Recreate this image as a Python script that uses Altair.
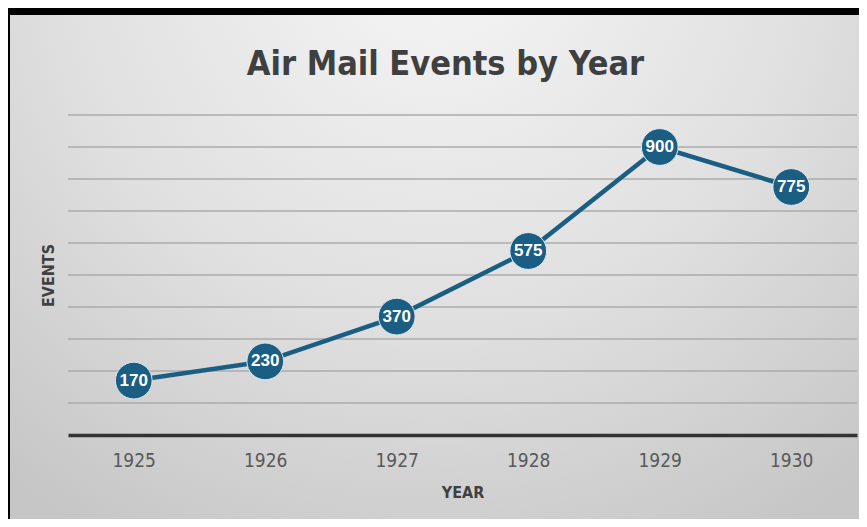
import altair as alt
import pandas as pd

years = ["1925", "1926", "1927", "1928", "1929", "1930"]
events = [170, 230, 370, 575, 900, 775]
grid_values = [100, 200, 300, 400, 500, 600, 700, 800, 900, 1000]

df = pd.DataFrame({"year": years, "events": events})
grid_df = pd.DataFrame({"events": grid_values})
bg_df = pd.DataFrame({"k": [0]})

COND = "'DejaVu Sans Condensed', 'Liberation Sans Narrow', sans-serif"
BLUE = "#1b5e84"

yscale = alt.Scale(domain=[0, 1000], nice=False)
xscale = alt.Scale(type="point", padding=0.5)

y_axis = alt.Axis(
    title="EVENTS",
    labels=False,
    ticks=False,
    domain=False,
    grid=False,
    titleFont=COND,
    titleFontSize=16,
    titleFontWeight="bold",
    titleColor="#404040",
    titlePadding=12,
    zindex=1,
)

bg = alt.Chart(bg_df).mark_rect(
    fill={
        "gradient": "radial",
        "x1": 0.5, "y1": 0.12, "r1": 0,
        "x2": 0.5, "y2": 0.12, "r2": 0.8,
        "stops": [
            {"offset": 0, "color": "#f6f6f6"},
            {"offset": 0.55, "color": "#e0e0e0"},
            {"offset": 1, "color": "#c6c6c6"},
        ],
    }
).encode(
    x=alt.value(-58), x2=alt.value(791), y=alt.value(-100), y2=alt.value(404)
)

grid = alt.Chart(grid_df).mark_rule(color="#ababab", strokeWidth=1.3).encode(
    y=alt.Y("events:Q", scale=yscale, axis=y_axis)
)

line = alt.Chart(df).mark_line(color=BLUE, strokeWidth=4.5).encode(
    x=alt.X(
        "year:O",
        scale=xscale,
        axis=alt.Axis(
            title="YEAR",
            labelAngle=0,
            labelFont=COND,
            labelFontSize=19,
            labelColor="#595959",
            labelPadding=16,
            ticks=False,
            domainColor="#333333",
            domainWidth=3.5,
            titleFont=COND,
            titleFontSize=16,
            titleFontWeight="bold",
            titleColor="#404040",
            titlePadding=14,
            zindex=1,
        ),
    ),
    y=alt.Y("events:Q", scale=yscale, axis=y_axis),
)

points = alt.Chart(df).mark_circle(
    size=1350, color=BLUE, opacity=1, stroke="#dde8ee", strokeWidth=1
).encode(x=alt.X("year:O", scale=xscale), y=alt.Y("events:Q", scale=yscale))

labels = alt.Chart(df).mark_text(
    color="white", font="Liberation Sans", fontWeight="bold", fontSize=17,
    align="center", baseline="middle",
).encode(
    x=alt.X("year:O", scale=xscale),
    y=alt.Y("events:Q", scale=yscale),
    text=alt.Text("events:Q"),
)

chart = alt.layer(bg, grid, line, points, labels).properties(
    width=789,
    height=320,
    title=alt.TitleParams(
        "Air Mail Events by Year",
        font=COND,
        fontSize=34,
        fontWeight="bold",
        color="#3f3f3f",
        anchor="middle",
        dx=-17,
        offset=-94,
        baseline="alphabetic",
    ),
    autosize=alt.AutoSizeParams(type="none"),
    padding={"left": 60, "top": 107, "right": 2, "bottom": 84},
).configure(background="black").configure_view(stroke=None)

chart.save("out.html", embed_options={"renderer": "svg", "actions": False})
